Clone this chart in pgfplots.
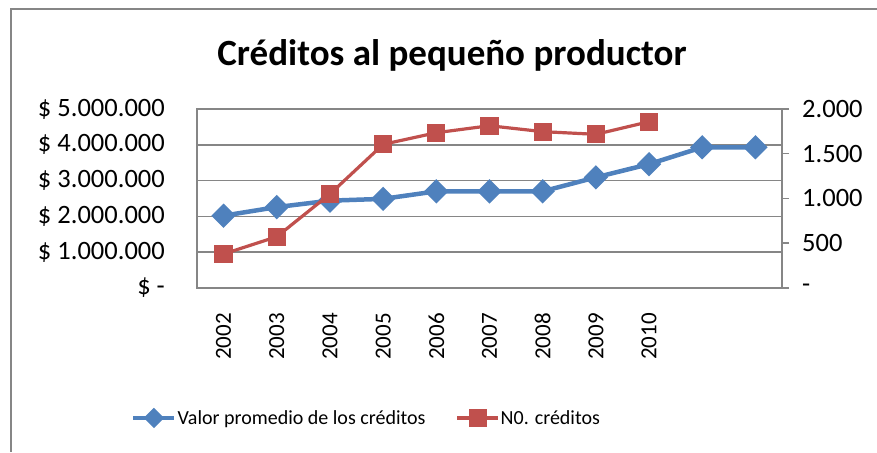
\documentclass[border=0pt]{standalone}
\usepackage{pgfplots}
\pgfplotsset{compat=1.18}
\usepackage{fontspec}
\setmainfont{Carlito}
\definecolor{sblue}{RGB}{79,129,189}
\definecolor{sred}{RGB}{192,80,77}
\definecolor{gridc}{RGB}{134,134,134}
\begin{document}
\begin{tikzpicture}[x=1pt,y=1pt]
\useasboundingbox (0,0) rectangle (877,452);
\fill[gridc] (10,0) rectangle (12,444);
\fill[gridc] (10,442) rectangle (877,444);
\node[font=\bfseries\fontsize{37}{40}\selectfont] at (452,397) {Créditos al pequeño productor};
\pgfplotsset{common/.style={scale only axis, width=585pt, height=179pt, at={(197pt,164pt)}, anchor=south west,
  xmin=-0.5, xmax=10.5, clip=false, scaled y ticks=false,
  /pgf/number format/assume math mode=true}}
\begin{axis}[common,
  ymin=0, ymax=5000000,
  ytick={0,1000000,2000000,3000000,4000000,5000000},
  yticklabels={{\$ -\hspace{12pt}},{\$ 1.000.000},{\$ 2.000.000},{\$ 3.000.000},{\$ 4.000.000},{\$ 5.000.000}},
  xtick={0,1,2,3,4,5,6,7,8},
  xticklabels={2002,2003,2004,2005,2006,2007,2008,2009,2010},
  ymajorgrids, grid style={gridc, line width=1.5pt},
  axis line style={gridc, line width=1.5pt},
  major tick length=0pt,
  yticklabel style={font=\fontsize{26.5}{30}\selectfont, inner sep=0pt, anchor=east},
  yticklabel shift=32pt,
  xticklabel style={font=\fontsize{23}{26}\selectfont, inner sep=0pt, rotate=90, anchor=east},
  xticklabel shift=25pt,
]
\addplot[sblue, line width=4.5pt, mark=diamond*, mark size=9pt, mark options={solid, xscale=1.333, fill=sblue, draw=sblue}]
coordinates {(0,2020000) (1,2260000) (2,2440000) (3,2490000) (4,2700000) (5,2700000) (6,2700000) (7,3090000) (8,3460000) (9,3930000) (10,3930000)};
\end{axis}
\begin{axis}[common,
  axis y line*=right, axis x line=none,
  ymin=0, ymax=2000,
  ytick={0,500,1000,1500,2000},
  yticklabels={-,500,1.000,1.500,2.000},
  tick align=outside, major tick length=7pt,
  tick style={gridc, line width=1.5pt},
  axis line style={gridc, line width=1.5pt},
  yticklabel style={font=\fontsize{26.5}{30}\selectfont, inner sep=0pt, anchor=west},
  yticklabel shift=13pt,
  legend style={at={(0.289,-0.726)}, anchor=center, draw=none, fill=none,
    font=\fontsize{20}{24}\selectfont, nodes={inner sep=1pt},
    /tikz/every even column/.append style={column sep=29pt}},
  legend columns=2,
  legend image code/.code={\draw[#1, mark=none] plot coordinates {(0pt,0pt) (41pt,0pt)};
    \draw[#1, only marks] plot coordinates {(20.5pt,0pt)};},
]
\addlegendimage{sblue, line width=4.5pt, mark=diamond*, mark size=7pt, mark options={solid, xscale=1.333, fill=sblue, draw=sblue}}
\addlegendentry{Valor promedio de los créditos}
\addplot[sred, line width=3.2pt, mark=square*, mark size=7.5pt, mark options={solid, fill=sred, draw=sred}]
coordinates {(0,380) (1,573) (2,1050) (3,1605) (4,1735) (5,1813) (6,1747) (7,1717) (8,1858)};
\addlegendentry{N0. créditos}
\end{axis}
\end{tikzpicture}
\end{document}
